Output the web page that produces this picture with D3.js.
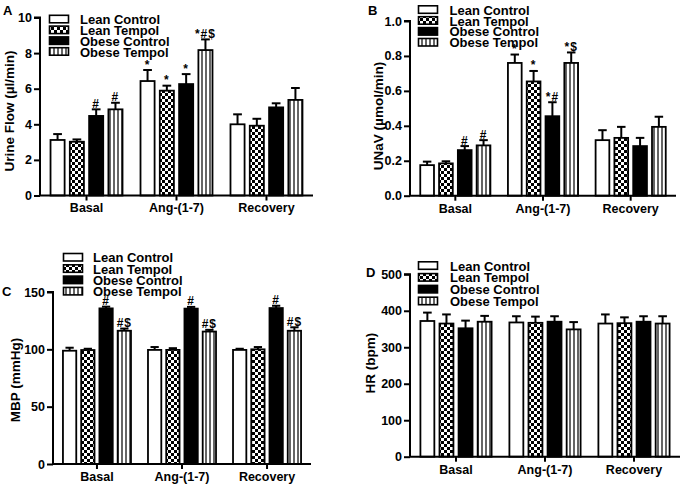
<!DOCTYPE html>
<html><head><meta charset="utf-8">
<script src="https://cdn.jsdelivr.net/npm/d3@7"></script>
<style>
body{margin:0;background:#fff}
text{font-family:"Liberation Sans",Arial,sans-serif;font-weight:bold;fill:#000}
</style>
</head><body>
<svg id="c" width="683" height="485"></svg>
<script>
const groups = ["Basal", "Ang-(1-7)", "Recovery"];
const seriesNames = ["Lean Control", "Lean Tempol", "Obese Control", "Obese Tempol"];

// Panel A: Urine flow (µl/min) — rows = groups, columns = series
const urineMean = [[3.12, 3.02, 4.47, 4.84], [6.43, 5.89, 6.26, 8.17], [4.00, 3.92, 4.95, 5.37]];
const urineErr  = [[0.33, 0.13, 0.37, 0.37], [0.62, 0.28, 0.56, 0.60], [0.56, 0.39, 0.23, 0.67]];
const urineSig  = [["", "", "#", "#"], ["*", "*", "*", "*#$"], ["", "", "", ""]];
const urineTicks = [0, 2, 4, 6, 8, 10];

// Panel B: UNaV (µmol/min)
const unavMean = [[0.175, 0.185, 0.261, 0.288], [0.760, 0.654, 0.455, 0.760], [0.318, 0.331, 0.284, 0.394]];
const unavErr  = [[0.020, 0.012, 0.023, 0.030], [0.048, 0.060, 0.080, 0.060], [0.057, 0.063, 0.047, 0.058]];
const unavSig  = [["", "", "#", "#"], ["*", "*", "*#", "*$"], ["", "", "", ""]];
const unavTicks = [0, 0.2, 0.4, 0.6, 0.8, 1.0];

// Panel C: MBP (mmHg)
const mbpMean = [[98.8, 99.4, 135.7, 116.2], [99.5, 99.5, 135.5, 115.5], [99.5, 100.0, 136.0, 116.2]];
const mbpErr  = [[2.6, 1.1, 1.5, 1.9], [2.5, 1.5, 1.5, 1.5], [1.0, 2.0, 2.0, 3.0]];
const mbpSig  = [["", "", "#", "#$"], ["", "", "#", "#$"], ["", "", "#", "#$"]];
const mbpTicks = [0, 50, 100, 150];

// Panel D: HR (bpm)
const hrMean = [[372, 365, 352, 370], [368, 367, 370, 349], [365, 366, 370, 365]];
const hrErr  = [[23, 25, 21, 16], [17, 17, 15, 20], [25, 16, 15, 20]];
const hrSig  = [["", "", "", ""], ["", "", "", ""], ["", "", "", ""]];
const hrTicks = [0, 100, 200, 300, 400, 500];

const svg = d3.select("#c");
const defs = svg.append("defs");
const chk = defs.append("pattern").attr("id", "checker").attr("patternUnits", "userSpaceOnUse")
  .attr("width", 6).attr("height", 6);
chk.append("rect").attr("width", 6).attr("height", 6).attr("fill", "#fff");
chk.append("rect").attr("width", 3).attr("height", 3).attr("fill", "#000");
chk.append("rect").attr("x", 3).attr("y", 3).attr("width", 3).attr("height", 3).attr("fill", "#000");
const str = defs.append("pattern").attr("id", "stripes").attr("patternUnits", "userSpaceOnUse")
  .attr("width", 4).attr("height", 4);
str.append("rect").attr("width", 4).attr("height", 4).attr("fill", "#fff");
str.append("rect").attr("x", 1.4).attr("width", 1.2).attr("height", 4).attr("fill", "#000");

const fills = ["#fff", "url(#checker)", "#000", "url(#stripes)"];

function panel(cfg) {
  const g = svg.append("g");
  const x0 = d3.scaleBand().domain(groups).range([cfg.left, cfg.right]).paddingInner(0.2).paddingOuter(0.117);
  const x1 = d3.scaleBand().domain(seriesNames).range([0, x0.bandwidth()]).paddingInner(0.27).paddingOuter(0);
  const y = d3.scaleLinear().domain([0, cfg.max]).range([cfg.bottom, cfg.top]);

  groups.forEach((grp, gi) => {
    seriesNames.forEach((s, si) => {
      const m = cfg.mean[gi][si], e = cfg.err[gi][si];
      const bx = x0(grp) + x1(s), bw = x1.bandwidth(), cx = bx + bw / 2;
      const capW = bw * 0.62;
      g.append("line").attr("x1", cx).attr("x2", cx).attr("y1", y(m)).attr("y2", y(m + e))
        .attr("stroke", "#000").attr("stroke-width", 2);
      g.append("line").attr("x1", cx - capW / 2).attr("x2", cx + capW / 2).attr("y1", y(m + e)).attr("y2", y(m + e))
        .attr("stroke", "#000").attr("stroke-width", 2);
      g.append("rect").attr("x", bx).attr("y", y(m)).attr("width", bw).attr("height", y(0) - y(m))
        .attr("fill", fills[si]).attr("stroke", "#000").attr("stroke-width", 1.8);
      const sig = cfg.sig[gi][si];
      if (sig) {
        g.append("text").attr("x", cx).attr("y", y(m + e) - 1.5).attr("text-anchor", "middle")
          .style("font-size", "12px").style("letter-spacing", "1px").text(sig);
      }
    });
  });

  const ya = d3.axisLeft(y).tickValues(cfg.ticks).tickSize(6).tickPadding(2).tickFormat(cfg.fmt);
  const yg = g.append("g").attr("transform", `translate(${cfg.left},0)`).call(ya);
  const xa = d3.axisBottom(x0).tickSize(5).tickPadding(3).tickSizeOuter(0);
  const xg = g.append("g").attr("transform", `translate(0,${cfg.bottom})`).call(xa);
  [yg, xg].forEach(a => {
    a.select(".domain").attr("stroke", "#000").attr("stroke-width", 2);
    a.selectAll(".tick line").attr("stroke", "#000").attr("stroke-width", 2);
    a.selectAll("text").style("font-family", '"Liberation Sans",Arial,sans-serif')
      .style("font-weight", "bold").style("font-size", "12.5px").attr("fill", "#000");
  });
  yg.select(".domain").attr("d", `M-6,${cfg.top}H0V${cfg.bottom}`);
  xg.select(".domain").attr("d", `M${cfg.left},0H${cfg.right}`);

  g.append("text").attr("transform", `translate(${cfg.labX},${cfg.labY}) rotate(-90)`)
    .attr("text-anchor", "middle").style("font-size", "13.5px").text(cfg.label);
  g.append("text").attr("x", cfg.letX).attr("y", cfg.letY).style("font-size", "13px").text(cfg.letter);

  seriesNames.forEach((s, si) => {
    const ry = cfg.legY + si * cfg.legStep;
    g.append("rect").attr("x", cfg.legX).attr("y", ry).attr("width", 19).attr("height", 7.5)
      .attr("fill", fills[si]).attr("stroke", "#000").attr("stroke-width", 1.6);
    g.append("text").attr("x", cfg.legTX).attr("y", ry + 8.8).style("font-size", "13px").text(s);
  });
}

panel({left: 40, right: 313, top: 17.5, bottom: 195.5, max: 10, ticks: urineTicks, fmt: d3.format("d"),
  mean: urineMean, err: urineErr, sig: urineSig, label: "Urine Flow (µl/min)", labX: 14, labY: 111,
  letter: "A", letX: 3, letY: 15, legX: 49.5, legY: 15.3, legStep: 10.8, legTX: 80});
panel({left: 410, right: 676, top: 21, bottom: 195.7, max: 1.0, ticks: unavTicks, fmt: d3.format(".1f"),
  mean: unavMean, err: unavErr, sig: unavSig, label: "UNaV (µmol/min)", labX: 383, labY: 116,
  letter: "B", letX: 368, letY: 15, legX: 418.5, legY: 5.8, legStep: 10.9, legTX: 449.5});
panel({left: 53, right: 311, top: 292, bottom: 464, max: 150, ticks: mbpTicks, fmt: d3.format("d"),
  mean: mbpMean, err: mbpErr, sig: mbpSig, label: "MBP (mmHg)", labX: 20, labY: 380,
  letter: "C", letX: 2, letY: 296, legX: 63.5, legY: 253.5, legStep: 11.3, legTX: 93});
panel({left: 410, right: 680, top: 274.3, bottom: 456.7, max: 500, ticks: hrTicks, fmt: d3.format("d"),
  mean: hrMean, err: hrErr, sig: hrSig, label: "HR (bpm)", labX: 375, labY: 363,
  letter: "D", letX: 366, letY: 277, legX: 418.5, legY: 261.8, legStep: 11.8, legTX: 450});
</script>
</body></html>
